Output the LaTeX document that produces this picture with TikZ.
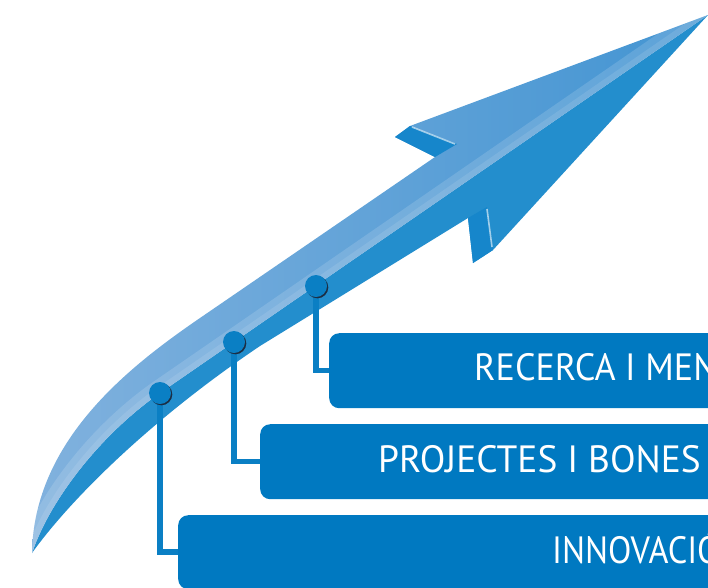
\documentclass[tikz,border=0pt]{standalone}
\usepackage{fontspec}
\setmainfont{PT Sans}
\usetikzlibrary{calc}
\definecolor{boxblue}{HTML}{0079C1}
\definecolor{dotblue}{HTML}{0A7FC4}
\definecolor{lowblue}{HTML}{238ECD}
\definecolor{flapblue}{HTML}{1686CB}
\definecolor{tailblue}{HTML}{82B2DE}
\definecolor{headblue}{HTML}{4294D2}
\definecolor{shadowdark}{HTML}{1C2E44}
\newcommand\UpperBandPath{(708,15) -- (410,126) -- (395,137) -- (435,157) -- (200,318) .. controls (130,366) and (34,440) .. (32,553) .. controls (50,500) and (100,435) .. (160,393) -- cycle}
\newcommand\LowerBandPath{(708,15) -- (493,250) -- (473,263) -- (468,218) -- (260,346) .. controls (150,420) and (70,500) .. (32,553) .. controls (50,500) and (100,435) .. (160,393) -- cycle}
\begin{document}
\begin{tikzpicture}[x=1pt,y=-1pt,
  stagebox/.style={fill=boxblue, rounded corners=10pt, minimum width=640pt, anchor=north west, inner sep=0pt},
  stagetext/.style={text=white, anchor=base west, inner sep=0pt, font=\fontsize{38}{40}\selectfont},
  conn/.style={draw=dotblue, line width=5.5pt},
  dot/.style={circle, fill=dotblue, minimum size=22pt, inner sep=0pt}]
\useasboundingbox (0,0) rectangle (708,587);
\clip (0,0) rectangle (708,587);
% arrow: lower (darker) band
\fill[lowblue] \LowerBandPath;
% arrow: upper (lighter) band
\begin{scope}
  \clip \UpperBandPath;
  \shade[left color=tailblue, right color=headblue] (20,0) rectangle (708,587);
  \draw[white, opacity=0.14, line width=26pt] (708,15) -- (160,393) .. controls (100,435) and (50,500) .. (32,553);
  \draw[white, opacity=0.10, line width=12pt] (708,15) -- (160,393) .. controls (100,435) and (50,500) .. (32,553);
\end{scope}
% barb flaps
\fill[flapblue] (410,126) -- (395,137) -- (435,157) -- (457,144) -- cycle;
\draw[white, opacity=0.6, line width=1.6pt] (412,127) -- (455,144);
\fill[flapblue] (487,207) -- (468,218) -- (473,263) -- (493,250) -- cycle;
\draw[white, opacity=0.6, line width=1.6pt] (487,209) -- (492,247);
% dot positions
\coordinate (p1) at (160,393);
\coordinate (p2) at (234,342);
\coordinate (p3) at (316,286);
% boxes
\node[stagebox, minimum height=75pt] (b1) at (329,333) {};
\node[stagebox, minimum height=75pt] (b2) at (260,424) {};
\node[stagebox, minimum height=74pt] (b3) at (178,515) {};
% connectors
\draw[conn] (p1) |- (b3.west);
\draw[conn] (p2) |- (b2.west);
\draw[conn] (p3) |- (b1.west);
% dot shadows and dots
\foreach \p in {p1,p2,p3}{\fill[shadowdark] ($(\p)+(1.3,1.3)$) circle (11pt);}
\node[dot] (d1) at (p1) {};
\node[dot] (d2) at (p2) {};
\node[dot] (d3) at (p3) {};
% labels
\node[stagetext, xscale=0.95] (t1) at (474,380) {RECERCA I MEN};
\node[stagetext, xscale=0.985] (t2) at (378,472) {PROJECTES I BONES};
\node[stagetext, xscale=0.90] (t3) at (552,563) {INNOVACIÓ};
\end{tikzpicture}
\end{document}
